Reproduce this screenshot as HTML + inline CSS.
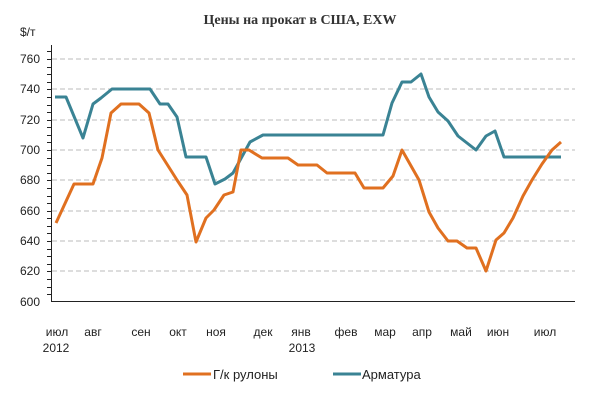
<!DOCTYPE html>
<html><head><meta charset="utf-8"><style>
body{margin:0;background:#fff;}
svg text{font-family:"Liberation Sans",sans-serif;fill:#222;}
</style></head><body>
<svg width="600" height="401" viewBox="0 0 600 401" xmlns="http://www.w3.org/2000/svg">
<text x="300" y="24" text-anchor="middle" style="font-family:'Liberation Serif',serif;font-size:14px;font-weight:bold;fill:#333">Цены на прокат в США, EXW</text>
<text x="20" y="36" font-size="12">$/т</text>
<g stroke="#bbb" stroke-dasharray="5,3" stroke-width="1">
<line x1="52" x2="575" y1="59" y2="59"/><line x1="52" x2="575" y1="89" y2="89"/>
<line x1="52" x2="575" y1="120" y2="120"/><line x1="52" x2="575" y1="150" y2="150"/>
<line x1="52" x2="575" y1="180" y2="180"/><line x1="52" x2="575" y1="211" y2="211"/>
<line x1="52" x2="575" y1="241" y2="241"/><line x1="52" x2="575" y1="271" y2="271"/>
</g>
<line x1="51.5" x2="51.5" y1="45" y2="302" stroke="#222"/>
<line x1="51" x2="575" y1="301.5" y2="301.5" stroke="#222"/>
<g stroke="#222">
<path d="M47 59.5h4M47 89.5h4M47 120.5h4M47 150.5h4M47 180.5h4M47 211.5h4M47 241.5h4M47 271.5h4M47 51.5h4M47 67.5h4M47 74.5h4M47 82.5h4M47 97.5h4M47 105.5h4M47 112.5h4M47 127.5h4M47 135.5h4M47 142.5h4M47 158.5h4M47 165.5h4M47 173.5h4M47 188.5h4M47 196.5h4M47 203.5h4M47 218.5h4M47 226.5h4M47 233.5h4M47 249.5h4M47 256.5h4M47 264.5h4M47 279.5h4M47 287.5h4M47 294.5h4"/>
</g>
<g font-size="12" text-anchor="end">
<text x="40" y="63">760</text><text x="40" y="93">740</text><text x="40" y="124">720</text><text x="40" y="154">700</text>
<text x="40" y="184">680</text><text x="40" y="215">660</text><text x="40" y="245">640</text><text x="40" y="275">620</text><text x="40" y="306">600</text>
</g>
<g font-size="12" text-anchor="middle">
<text x="57" y="336">июл</text><text x="93" y="336">авг</text><text x="141" y="336">сен</text><text x="178" y="336">окт</text>
<text x="216" y="336">ноя</text><text x="263" y="336">дек</text><text x="301" y="336">янв</text><text x="346" y="336">фев</text>
<text x="385" y="336">мар</text><text x="422" y="336">апр</text><text x="461" y="336">май</text><text x="498" y="336">июн</text><text x="545" y="336">июл</text>
<text x="56" y="352">2012</text><text x="302" y="352">2013</text>
</g>
<polyline fill="none" stroke="#3a8394" stroke-width="3" stroke-linejoin="round" points="55,97 66,97 83,138 93,104 101,98 112,89 150,89 160,104 168,104 177,117 186,157 206,157 215,184 225,179 233,173 250,142 263,135 383,135 392,103 402,82 411,82 421,74 429,97 438,112 448,121 458,136 476,150 486,136 495,131 504,157 561,157"/>
<polyline fill="none" stroke="#e07020" stroke-width="3" stroke-linejoin="round" points="56,223 74,184 93,184 102,158 111,113 121,104 139,104 149,113 158,150 177,180 187,195 196,242 206,218 214,210 224,195 233,192 241,150 249,150 262,158 288,158 298,165 317,165 327,173 355,173 364,188 383,188 393,176 402,150 419,180 429,212 438,228 448,241 457,241 467,248 476,248 486,271 496,240 504,233 513,218 523,196 532,180 542,164 552,150 561,142"/>
<line x1="183" x2="211" y1="374" y2="374" stroke="#e07020" stroke-width="3"/>
<text x="213" y="379" font-size="13">Г/к рулоны</text>
<line x1="333" x2="361" y1="374" y2="374" stroke="#3a8394" stroke-width="3"/>
<text x="362" y="379" font-size="13">Арматура</text>
</svg>
</body></html>
